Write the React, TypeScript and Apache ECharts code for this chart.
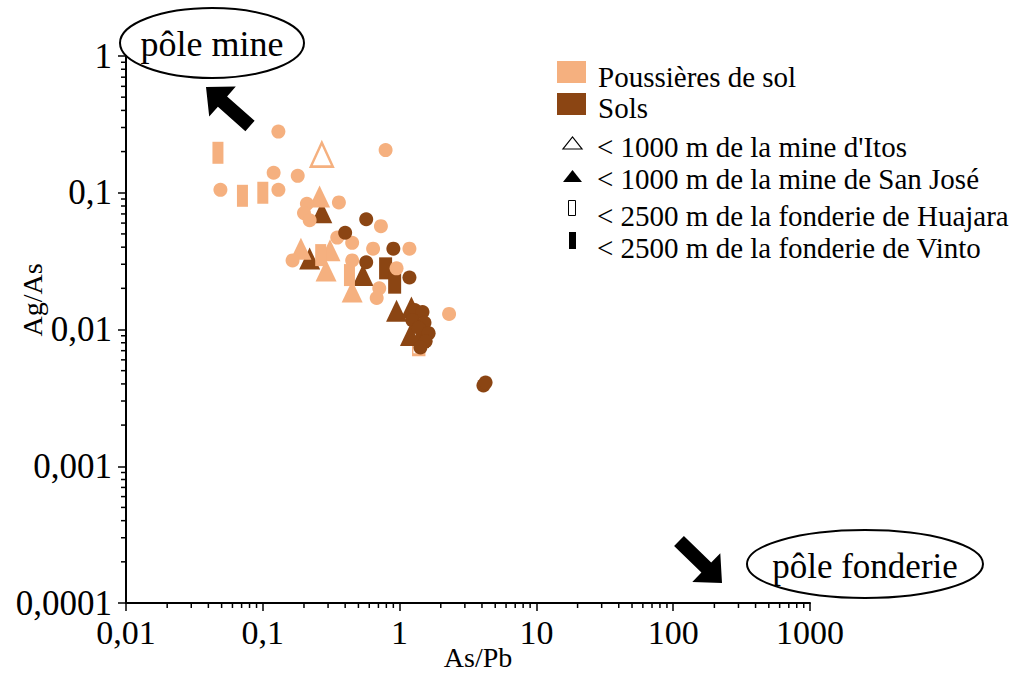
import React, { useEffect, useRef } from "react";
import * as echarts from "echarts";

// ---- Data (As/Pb, Ag/As) ----
const dustCircles: [number, number][] = [
  [0.13, 0.28], [0.79, 0.205], [0.049, 0.105], [0.12, 0.14], [0.13, 0.105],
  [0.18, 0.133], [0.21, 0.083], [0.2, 0.071], [0.22, 0.063], [0.36, 0.085],
  [0.73, 0.057], [0.35, 0.047], [0.45, 0.043], [0.64, 0.039], [1.18, 0.039],
  [0.45, 0.032], [0.95, 0.028], [0.165, 0.032], [0.71, 0.02], [0.68, 0.017],
  [2.3, 0.013],
];
const soilCircles: [number, number][] = [
  [0.57, 0.064], [0.4, 0.051], [0.9, 0.039], [1.18, 0.024], [0.57, 0.031],
  [1.29, 0.0139], [1.47, 0.0134], [1.24, 0.0117], [1.52, 0.0112], [1.38, 0.0103],
  [1.63, 0.0094], [1.55, 0.0082], [1.42, 0.0074], [4.1, 0.0039], [4.25, 0.0041],
];
const dustItos: [number, number][] = [[0.27, 0.19]];
const dustSanJose: [number, number][] = [
  [0.26, 0.094], [0.19, 0.039], [0.29, 0.027], [0.45, 0.019], [0.31, 0.038],
];
const soilSanJose: [number, number][] = [
  [0.27, 0.072], [0.22, 0.033], [0.54, 0.025], [0.95, 0.0137], [1.22, 0.0145], [1.2, 0.0091],
];
const dustHuajara: [number, number][] = [[1.38, 0.008]];
const dustVinto: [number, number][] = [
  [0.047, 0.196], [0.071, 0.095], [0.1, 0.1], [0.265, 0.035], [0.43, 0.025],
];
const soilVinto: [number, number][] = [[0.79, 0.028], [0.92, 0.022], [1.47, 0.0088]];

const xTickLabels = ["0,01", "0,1", "1", "10", "100", "1000"];
const yTickLabels = ["0,0001", "0,001", "0,01", "0,1", "1"];
const xMinorTicks = [
  0.02, 0.03, 0.04, 0.05, 0.06, 0.07, 0.08, 0.09,
  0.2, 0.3, 0.4, 0.5, 0.6, 0.7, 0.8, 0.9,
  2, 3, 4, 5, 6, 7, 8, 9,
  20, 30, 40, 50, 60, 70, 80, 90,
  200, 300, 400, 500, 600, 700, 800, 900,
];
const yMinorTicks = [
  0.0002, 0.0003, 0.0004, 0.0005, 0.0006, 0.0007, 0.0008, 0.0009,
  0.002, 0.003, 0.004, 0.005, 0.006, 0.007, 0.008, 0.009,
  0.02, 0.03, 0.04, 0.05, 0.06, 0.07, 0.08, 0.09,
  0.2, 0.3, 0.4, 0.5, 0.6, 0.7, 0.8, 0.9,
];

const legendLabels = [
  "Poussières de sol",
  "Sols",
  "< 1000 m de la mine d'Itos",
  "< 1000 m de la mine de San José",
  "< 2500 m de la fonderie de Huajara",
  "< 2500 m de la fonderie de Vinto",
];

const X_MIN = 0.01, X_MAX = 1000, Y_MIN = 0.0001, Y_MAX = 1;
const LIGHT = "#F5B07F";
const DARK = "#8B4513";
const FONT = "Liberation Serif";

function txt(text: string, x: number, y: number, size: number, align = "left", rotation = 0) {
  return {
    type: "text",
    x, y, rotation,
    style: {
      text, fill: "#000", fontFamily: FONT, fontSize: size,
      textAlign: align, textVerticalAlign: "middle", align, verticalAlign: "middle",
    },
    silent: true,
  };
}

export default function App() {
  const ref = useRef<HTMLDivElement>(null);
  useEffect(() => {
    if (!ref.current) return;
    const chart = echarts.init(ref.current, null, { renderer: "svg" });
    const scatter = (name: string, data: [number, number][], symbol: string, size: any, itemStyle: any) => ({
      name, type: "scatter", data, symbol, symbolSize: size,
      itemStyle: { opacity: 1, ...itemStyle }, silent: true,
    });
    const option: any = {
      animation: false,
      backgroundColor: "#fff",
      grid: { left: 126, top: 56, width: 684, height: 547 },
      xAxis: {
        type: "log", logBase: 10, min: X_MIN, max: X_MAX, splitNumber: 5,
        axisLine: { show: true, onZero: false, lineStyle: { color: "#000", width: 2 } },
        axisTick: { show: true, length: 8, lineStyle: { color: "#000", width: 1.5 } },
        axisLabel: {
          color: "#000", fontFamily: FONT, fontSize: 34, margin: 12,
          formatter: (v: number) => xTickLabels[Math.round(Math.log10(v)) + 2],
        },
        splitLine: { show: false },
      },
      yAxis: {
        type: "log", logBase: 10, min: Y_MIN, max: Y_MAX, splitNumber: 4,
        axisLine: { show: true, onZero: false, lineStyle: { color: "#000", width: 2 } },
        axisTick: { show: true, length: 8, lineStyle: { color: "#000", width: 1.5 } },
        axisLabel: {
          color: "#000", fontFamily: FONT, fontSize: 35, margin: 14,
          formatter: (v: number) => yTickLabels[Math.round(Math.log10(v)) + 4],
        },
        splitLine: { show: false },
      },
      series: [
        {
          type: "custom", silent: true, clip: false,
          data: xMinorTicks.map((v) => [v, Y_MIN]),
          encode: { x: 0, y: 1 },
          renderItem: (_p: any, api: any) => {
            const p = api.coord([api.value(0), Y_MIN]);
            return { type: "line", shape: { x1: p[0], y1: p[1], x2: p[0], y2: p[1] + 5 }, style: { stroke: "#000", lineWidth: 1.5 } };
          },
        },
        {
          type: "custom", silent: true, clip: false,
          data: yMinorTicks.map((v) => [X_MIN, v]),
          encode: { x: 0, y: 1 },
          renderItem: (_p: any, api: any) => {
            const p = api.coord([X_MIN, api.value(1)]);
            return { type: "line", shape: { x1: p[0], y1: p[1], x2: p[0] - 5, y2: p[1] }, style: { stroke: "#000", lineWidth: 1.5 } };
          },
        },
        scatter("Itos", dustItos, "triangle", [22, 24], { color: "rgba(0,0,0,0)", borderColor: LIGHT, borderWidth: 2.5 }),
        scatter("Huajara", dustHuajara, "rect", [12, 24], { color: "rgba(0,0,0,0)", borderColor: LIGHT, borderWidth: 2 }),
        scatter("SolsSJ", soilSanJose, "triangle", [21, 22], { color: DARK }),
        scatter("SolsVinto", soilVinto, "rect", [13, 22], { color: DARK }),
        scatter("PoussSJ", dustSanJose, "triangle", [21, 22], { color: LIGHT }),
        scatter("PoussVinto", dustVinto, "rect", [11, 22], { color: LIGHT }),
        scatter("PoussCircle", dustCircles, "circle", 14, { color: LIGHT }),
        scatter("SolsCircle", soilCircles, "circle", 14, { color: DARK }),
      ],
      graphic: [
        // axis names
        txt("As/Pb", 478, 657, 28, "center"),
        txt("Ag/As", 32, 300, 28, "center", Math.PI / 2),
        // poles
        { type: "ellipse", shape: { cx: 212, cy: 43, rx: 92, ry: 35 }, style: { fill: "none", stroke: "#000", lineWidth: 2 }, silent: true },
        txt("pôle mine", 212, 44, 36, "center"),
        { type: "ellipse", shape: { cx: 865, cy: 564, rx: 118, ry: 34 }, style: { fill: "none", stroke: "#000", lineWidth: 2 }, silent: true },
        txt("pôle fonderie", 865, 566, 35, "center"),
        {
          type: "polygon", silent: true,
          shape: { points: [[206, 87], [235.8, 86.6], [227.1, 96.4], [254.6, 120.8], [245.4, 131.2], [217.9, 106.8], [209.2, 116.6]] },
          style: { fill: "#000" },
        },
        {
          type: "polygon", silent: true,
          shape: { points: [[722, 583], [720.3, 553.3], [711.2, 562.6], [683.9, 536.0], [674.1, 546.0], [701.4, 572.6], [692.3, 581.9]] },
          style: { fill: "#000" },
        },
        // legend
        { type: "rect", shape: { x: 557, y: 61, width: 29, height: 22 }, style: { fill: LIGHT }, silent: true },
        { type: "rect", shape: { x: 557, y: 93, width: 29, height: 22 }, style: { fill: DARK }, silent: true },
        { type: "polygon", shape: { points: [[563, 149], [582, 149], [572.5, 137]] }, style: { fill: "#fff", stroke: "#000", lineWidth: 1.2 }, silent: true },
        { type: "polygon", shape: { points: [[563, 182], [582, 182], [572.5, 170]] }, style: { fill: "#000" }, silent: true },
        { type: "rect", shape: { x: 568.5, y: 200.5, width: 7, height: 15 }, style: { fill: "#fff", stroke: "#000", lineWidth: 1 }, silent: true },
        { type: "rect", shape: { x: 569, y: 232, width: 7, height: 17 }, style: { fill: "#000" }, silent: true },
        txt(legendLabels[0], 598, 77, 29),
        txt(legendLabels[1], 598, 108, 29),
        txt(legendLabels[2], 597, 147, 29),
        txt(legendLabels[3], 597, 179, 29),
        txt(legendLabels[4], 597, 216, 29),
        txt(legendLabels[5], 597, 248, 29),
      ],
    };
    chart.setOption(option);
    return () => chart.dispose();
  }, []);
  return (
    <div
      ref={ref}
      style={{ position: "fixed", left: 0, top: 0, width: 1024, height: 675, background: "#fff" }}
    />
  );
}
